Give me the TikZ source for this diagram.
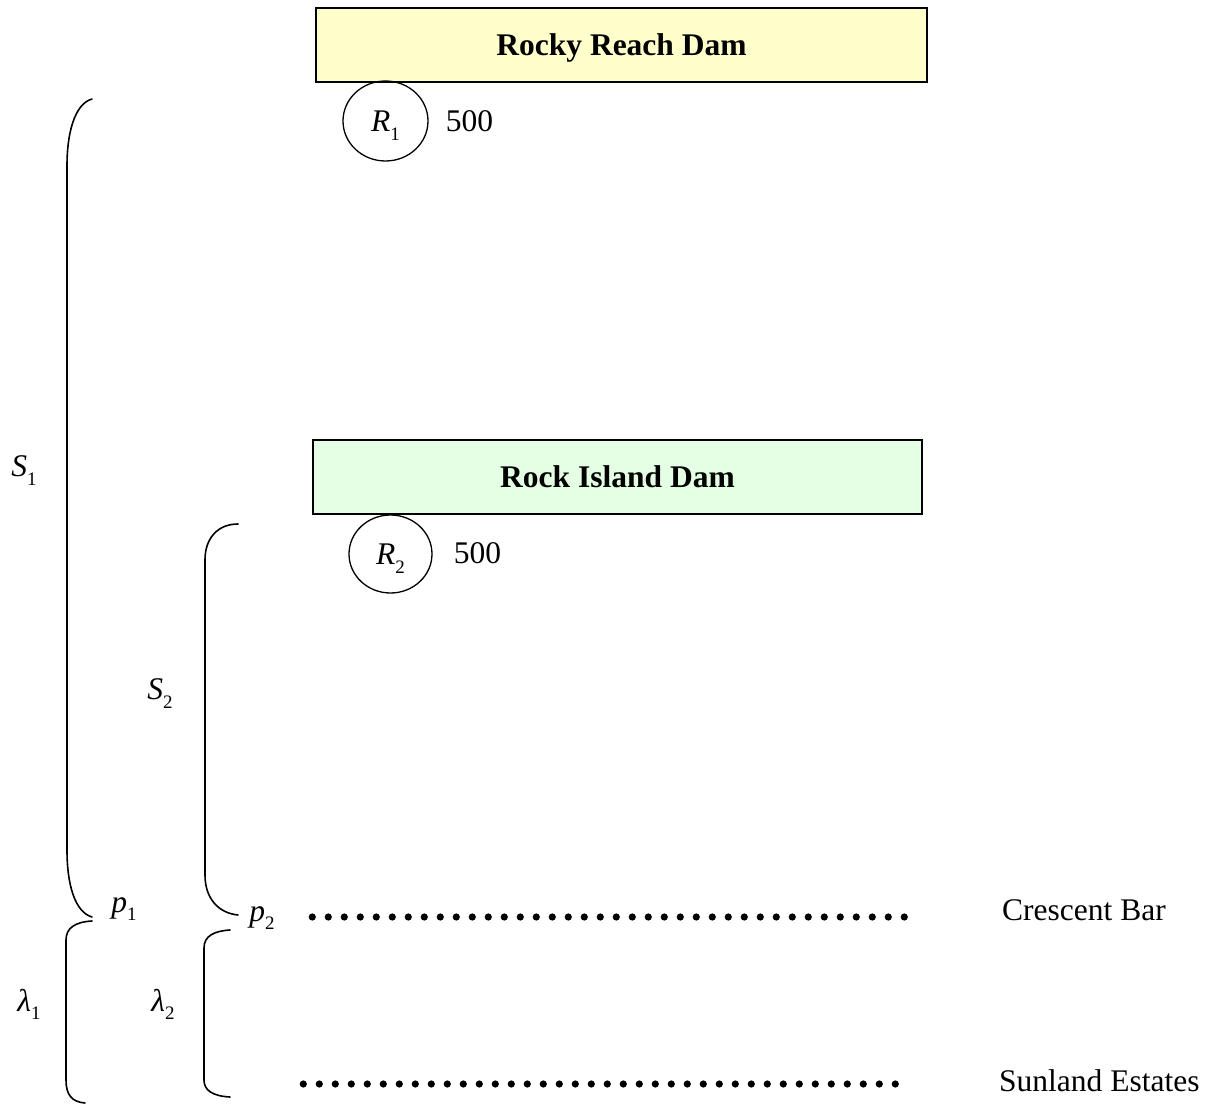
\documentclass[tikz,border=0pt]{standalone}
\usepackage{fontspec}
\setmainfont{Liberation Serif}
\usetikzlibrary{shapes.geometric}
\definecolor{damyellow}{RGB}{255,255,204}
\definecolor{damgreen}{RGB}{228,255,228}
\newcommand\vsub[2]{\textit{#1}\raisebox{-0.28em}[0pt][0pt]{\fontsize{19}{20}\selectfont #2}}
\begin{document}
\begin{tikzpicture}[x=1pt,y=-1pt,
  every node/.style={font=\fontsize{31.5}{36}\selectfont, inner sep=0pt},
  dambox/.style={draw, line width=1.2pt, minimum width=611pt, minimum height=74pt, text height=21pt, text depth=0pt, font=\fontsize{31.5}{36}\selectfont\bfseries},
  resv/.style={draw, ellipse, line width=1.3pt, minimum width=85pt, minimum height=80pt},
  brace/.style={line width=1.6pt, line cap=round},
  dotrow/.style={fill=black}
]
\useasboundingbox (0,0) rectangle (1208,1105);

% dams
\node[dambox, fill=damyellow] (rr) at (621.5,45) {Rocky Reach Dam};
\node[dambox, fill=damgreen, minimum width=609pt] (ri) at (617.5,477) {Rock Island Dam};

% reservoirs
\node[resv] (r1) at (385.5,121) {\vsub{R}{1}};
\node (v1) at (469.5,121) {500};
\node[resv, minimum width=83pt, minimum height=78pt] (r2) at (390.5,554) {\vsub{R}{2}};
\node (v2) at (477.5,553) {500};

% brace labels
\node (s1) at (24,466) {\vsub{S}{1}};
\node (s2) at (160,689) {\vsub{S}{2}};
\node (p1) at (124,908) {\vsub{p}{1}};
\node (p2) at (262,917) {\vsub{p}{2}};
\node (l1) at (29,1000) {\vsub{λ}{1}};
\node (l2) at (163,1000) {\vsub{λ}{2}};

% places
\node[anchor=west] (cb) at (1002,910) {Crescent Bar};
\node[anchor=west] (se) at (999,1081) {Sunland Estates};

% brace end points
\coordinate (s1t) at (92,99);
\coordinate (s1b) at (92,917);
\coordinate (s2t) at (238,524);
\coordinate (s2b) at (238,915);
\coordinate (l1t) at (92,921);
\coordinate (l1b) at (85,1103);
\coordinate (l2t) at (230,930);
\coordinate (l2b) at (230,1097);

% braces
\draw[brace] (s1t) .. controls (74,104) and (67,135) .. (67,165) -- (67,850)
  .. controls (67,885) and (75,912) .. (s1b);
\draw[brace] (s2t) .. controls (218,524) and (205,538) .. (205,560) -- (205,875)
  .. controls (205,898) and (218,913) .. (s2b);
\draw[brace] (l1t) .. controls (75,922) and (66,928) .. (66,940) -- (66,1080)
  .. controls (66,1095) and (72,1102) .. (l1b);
\draw[brace] (l2t) .. controls (214,931) and (204,936) .. (204,948) -- (204,1080)
  .. controls (204,1090) and (212,1096) .. (l2b);

% dotted rows
\foreach \i in {0,...,37} {
  \fill[dotrow] (312.3+16*\i,917) circle (3.6pt);
  \fill[dotrow] (303.3+16*\i,1084) circle (3.6pt);
}
\end{tikzpicture}
\end{document}
